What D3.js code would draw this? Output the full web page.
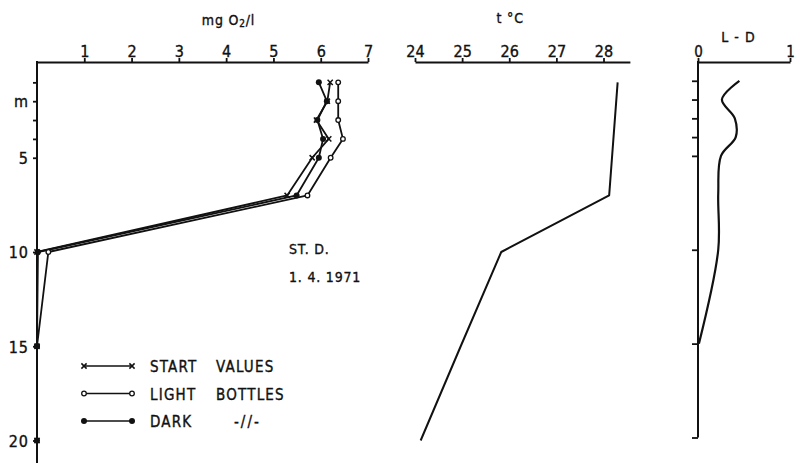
<!DOCTYPE html>
<html>
<head>
<meta charset="utf-8">
<script src="https://cdn.jsdelivr.net/npm/d3@7"></script>
<style>
  html, body { margin: 0; padding: 0; background: #fff; }
  svg { display: block; }
  text { font-family: "Liberation Sans Narrow", "DejaVu Sans Condensed", "Liberation Sans", Arial, sans-serif; fill: #111; stroke: #111; stroke-width: 0.35px; }
</style>
</head>
<body>
<svg id="chart" width="800" height="476"></svg>
<script>
// ---------------- data ----------------
const depths = [1, 2, 3, 4, 5, 7, 10, 15, 20];
const startValues = [6.20, 6.14, 5.91, 6.17, 5.82, 5.29, 0.00, 0.00, 0.00];
const lightValues = [6.37, 6.37, 6.37, 6.47, 6.21, 5.72, 0.24, 0.00, null];
const darkValues  = [5.96, 6.13, 5.93, 6.05, 5.96, 5.49, 0.02, 0.00, 0.00];

const tempDepths = [1, 7, 10, 15, 20];
const tempValues = [28.30, 28.12, 25.83, 24.97, 24.12];

const ldDepths = [1, 2, 3, 4, 5, 7, 10, 15];
const ldValues = [0.45, 0.26, 0.40, 0.41, 0.25, 0.22, 0.22, 0.01];

const oxyTicks = [1, 2, 3, 4, 5, 6, 7];
const tempTicks = [24, 25, 26, 27, 28];
const ldTicks = [0, 1];
const depthTicks = [1, 2, 3, 4, 5, 10, 15, 20];
const depthLabels = {2: "m", 5: "5", 10: "10", 15: "15", 20: "20"};

const legendItems = [
  {key: "start", label1: "START", label2: "VALUES"},
  {key: "light", label1: "LIGHT", label2: "BOTTLES"},
  {key: "dark",  label1: "DARK",  label2: "-//-"}
];
const stationText = ["ST.  D.", "1. 4. 1971"];

// ---------------- layout ----------------
const svg = d3.select("#chart");
const axisY = 62;
const ink = "#111";

const xO = d3.scaleLinear().domain([0, 7]).range([37, 368]);
const yL = d3.scaleLinear().domain([0, 20]).range([63.5, 440.5]);
const xT = d3.scaleLinear().domain([24, 28]).range([415, 603.5]);
const xLD = d3.scaleLinear().domain([0, 1]).range([698, 790]);
const yR = d3.scaleLinear().domain([0, 20]).range([62, 437.5]);

function styleAxis(g, fs) {
  g.selectAll("path.domain").attr("stroke", ink).attr("stroke-width", 2);
  g.selectAll(".tick line").attr("stroke", ink).attr("stroke-width", 1.8);
  g.selectAll(".tick text").attr("fill", ink).style("font-size", fs + "px")
    .style("font-family", '"Liberation Sans Narrow", "DejaVu Sans Condensed", "Liberation Sans", Arial, sans-serif');
}

// ---------- left panel: oxygen ----------
const gOx = svg.append("g").attr("transform", `translate(0,${axisY})`)
  .call(d3.axisTop(xO).tickValues(oxyTicks).tickFormat(d3.format("d")).tickSize(4).tickSizeOuter(0).tickPadding(1));
styleAxis(gOx, 16);

// vertical depth axis (left)
svg.append("line")
  .attr("x1", xO(0)).attr("x2", xO(0))
  .attr("y1", axisY - 1).attr("y2", yL(21.2))
  .attr("stroke", ink).attr("stroke-width", 2);
const gDepthL = svg.append("g").attr("transform", `translate(${xO(0)},0)`)
  .call(d3.axisLeft(yL).tickValues(depthTicks).tickSize(4).tickPadding(4)
    .tickFormat(d => depthLabels[d] || ""));
gDepthL.select("path.domain").remove();
styleAxis(gDepthL, 16);
gDepthL.selectAll(".tick text").attr("dy", "0.36em").style("letter-spacing", "1px");

svg.append("text").attr("x", xO(4.05)).attr("y", 25).attr("text-anchor", "middle")
  .style("font-size", "14px").style("letter-spacing", "0.8px")
  .call(t => {
    t.append("tspan").text("mg O");
    t.append("tspan").attr("dy", 2).style("font-size", "10px").text("2");
    t.append("tspan").attr("dy", -2).text("/l");
  });

const series = {
  light: lightValues,
  start: startValues,
  dark: darkValues
};
const lineOx = d3.line()
  .defined(d => d.v !== null)
  .x(d => xO(d.v)).y(d => yL(d.d));

function seriesPoints(vals) {
  return depths.map((d, i) => ({d: d, v: vals[i]})).filter(p => p.v !== null);
}

function drawMarker(g, type, x, y) {
  if (type === "start") {
    const s = 2.6;
    g.append("path")
      .attr("d", `M${x - s},${y - s}L${x + s},${y + s}M${x - s},${y + s}L${x + s},${y - s}`)
      .attr("stroke", ink).attr("stroke-width", 1.5).attr("fill", "none");
  } else if (type === "light") {
    g.append("circle").attr("cx", x).attr("cy", y).attr("r", 2.3)
      .attr("fill", "#fff").attr("stroke", ink).attr("stroke-width", 1.3);
  } else {
    g.append("circle").attr("cx", x).attr("cy", y).attr("r", 3)
      .attr("fill", ink);
  }
}

["light", "start", "dark"].forEach(key => {
  const pts = seriesPoints(series[key]);
  svg.append("path").datum(pts)
    .attr("d", lineOx)
    .attr("fill", "none").attr("stroke", ink).attr("stroke-width", 1.8)
    .attr("stroke-linejoin", "round");
});
["light", "start", "dark"].forEach(key => {
  const g = svg.append("g");
  seriesPoints(series[key]).forEach(p => drawMarker(g, key, xO(p.v), yL(p.d)));
});

// station text
stationText.forEach((s, i) => {
  svg.append("text").attr("x", 289).attr("y", 254 + i * 28)
    .style("font-size", "14px").style("letter-spacing", "0.8px").text(s);
});

// legend
const legX1 = 84, legX2 = 132;
legendItems.forEach((item, i) => {
  const y = 366 + i * 27.5;
  const g = svg.append("g");
  g.append("line").attr("x1", legX1).attr("x2", legX2).attr("y1", y).attr("y2", y)
    .attr("stroke", ink).attr("stroke-width", 1.6);
  drawMarker(g, item.key, legX1, y);
  drawMarker(g, item.key, legX2, y);
  g.append("text").attr("x", 150).attr("y", y + 6)
    .style("font-size", "15px").style("letter-spacing", "1.2px").text(item.label1);
  g.append("text").attr("x", item.key === "dark" ? 234 : 216).attr("y", y + 6)
    .style("font-size", "15px").style("letter-spacing", item.key === "dark" ? "2px" : "1.2px").text(item.label2);
});

// ---------- middle panel: temperature ----------
const xTaxis = d3.scaleLinear().domain([24, 28.56]).range([xT(24), xT(28.56)]);
const gT = svg.append("g").attr("transform", `translate(0,${axisY})`)
  .call(d3.axisTop(xTaxis).tickValues(tempTicks).tickFormat(d3.format("d")).tickSize(4).tickSizeOuter(0).tickPadding(1));
styleAxis(gT, 16);

svg.append("text").attr("x", xT(26.02)).attr("y", 23).attr("text-anchor", "middle")
  .style("font-size", "14px").style("letter-spacing", "0.8px").text("t \u00B0C");

const tempPts = tempDepths.map((d, i) => ({d: d, v: tempValues[i]}));
svg.append("path").datum(tempPts)
  .attr("d", d3.line().x(p => xT(p.v)).y(p => yL(p.d)))
  .attr("fill", "none").attr("stroke", ink).attr("stroke-width", 2)
  .attr("stroke-linejoin", "round");

// ---------- right panel: L - D ----------
const gLD = svg.append("g").attr("transform", `translate(0,${axisY})`)
  .call(d3.axisTop(xLD).tickValues(ldTicks).tickFormat(d3.format("d")).tickSize(4).tickSizeOuter(0).tickPadding(1));
styleAxis(gLD, 15);

svg.append("line")
  .attr("x1", xLD(0)).attr("x2", xLD(0))
  .attr("y1", axisY - 1).attr("y2", yR(20))
  .attr("stroke", ink).attr("stroke-width", 2);
const gDepthR = svg.append("g").attr("transform", `translate(${xLD(0)},0)`)
  .call(d3.axisLeft(yR).tickValues(depthTicks).tickSize(6).tickFormat(() => ""));
gDepthR.select("path.domain").remove();
styleAxis(gDepthR, 12);

svg.append("text").attr("x", xLD(0.44)).attr("y", 42).attr("text-anchor", "middle")
  .style("font-size", "14px").style("letter-spacing", "1px").text("L - D");

const ldPts = ldDepths.map((d, i) => ({d: d, v: ldValues[i]}));
svg.append("path").datum(ldPts)
  .attr("d", d3.line().curve(d3.curveCatmullRom.alpha(0.5)).x(p => xLD(p.v)).y(p => yR(p.d)))
  .attr("fill", "none").attr("stroke", ink).attr("stroke-width", 2.2)
  .attr("stroke-linejoin", "round");
</script>
</body>
</html>
